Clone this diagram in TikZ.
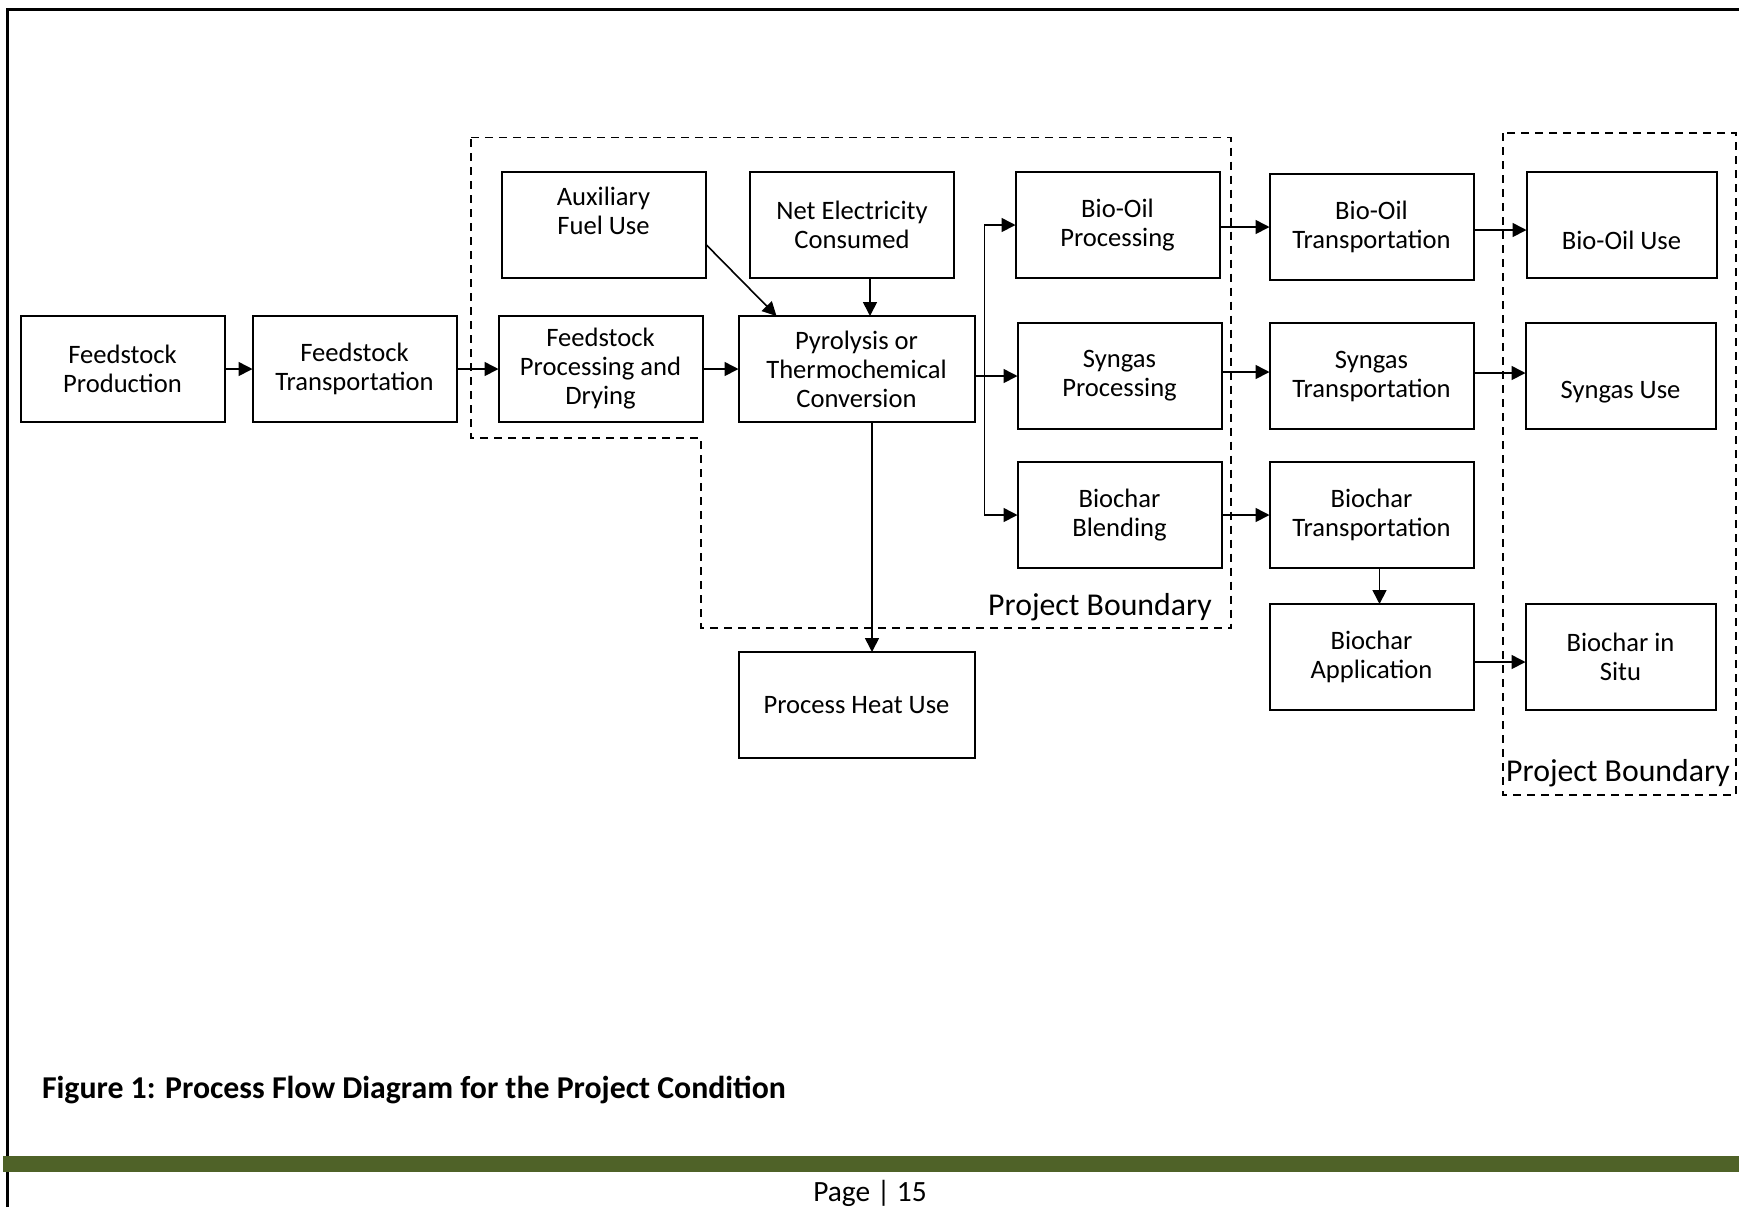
\documentclass[tikz,border=0pt]{standalone}
\usepackage{fontspec}
\setmainfont{Carlito}
\usetikzlibrary{positioning,arrows.meta}
\definecolor{barolive}{HTML}{4F6228}

\begin{document}
\begin{tikzpicture}[x=0.5pt,y=-0.5pt,>={Triangle[length=7pt,width=7pt]},font=\fontsize{13.3}{14.5}\selectfont]

    % Define node styles
    \tikzstyle{process_block} = [draw, line width=1pt, minimum width=102pt, minimum height=53pt, align=center, inner sep=0pt, outer sep=0pt]
    \tikzstyle{wide_block} = [process_block, minimum width=118pt]
    \tikzstyle{use_block} = [process_block, minimum width=95pt]
    \tikzstyle{boundary} = [dash pattern=on 4pt off 3pt, line width=0.8pt]
    \tikzstyle{flow} = [->, line width=0.8pt]

    \useasboundingbox (0,0) rectangle (1739,1207);

    % Page frame
    \draw [line width=1.5pt] (7,1207) -- (7,9) -- (1739,9);
    \fill [barolive] (3,1156) rectangle (1739,1172);

    % Draw nodes
    \node [process_block] (feed_prod) at (122.5,369) {Feedstock\\Production};
    \node [process_block, right=14pt of feed_prod] (feed_trans) {Feedstock\\Transportation};
    \node [process_block, right=21pt of feed_trans] (feed_proc) {Feedstock\\Processing and\\Drying};
    \node [wide_block, right=18pt of feed_proc] (pyrolysis) {Pyrolysis or\\Thermochemical\\Conversion};
    \node [process_block, above=19pt of feed_proc, xshift=1.5pt] (aux_fuel) {Auxiliary\\Fuel Use\\\mbox{}};
    \node [process_block, above=19pt of pyrolysis, xshift=-2.25pt] (net_elec) {Net Electricity\\Consumed};
    \node [wide_block, below=115pt of pyrolysis] (heat_use) {Process Heat Use};

    \node [process_block, right=21.5pt of pyrolysis, yshift=-3.5pt] (syngas_proc) {Syngas\\Processing};
    \node [process_block, above=22.5pt of syngas_proc, xshift=-1pt] (oil_proc) {Bio-Oil\\Processing};
    \node [process_block, below=16.5pt of syngas_proc] (char_blend) {Biochar\\Blending};

    \node [process_block, right=25pt of oil_proc, yshift=-1pt] (oil_trans) {Bio-Oil\\Transportation};
    \node [process_block, right=24pt of syngas_proc] (syngas_trans) {Syngas\\Transportation};
    \node [process_block, right=24pt of char_blend] (char_trans) {Biochar\\Transportation};
    \node [process_block, below=18pt of char_trans] (char_app) {Biochar\\Application};

    \node [use_block, right=26.5pt of oil_trans, yshift=1pt] (oil_use) {\strut\\Bio-Oil Use};
    \node [use_block, right=26pt of syngas_trans] (syngas_use) {\strut\\Syngas Use};
    \node [use_block, right=26pt of char_app] (char_situ) {Biochar in\\Situ};

    % Project boundaries
    \draw [boundary] (471,137.5) -- (1231,137.5) -- (1231,628) -- (701,628) -- (701,438) -- (471,438) -- cycle;
    \draw [boundary] (1503,133) rectangle (1736,795);
    \node [font=\fontsize{15.9}{18}\selectfont] (boundary_label_1) at (1100,607) {Project Boundary};
    \node [font=\fontsize{15.9}{18}\selectfont] (boundary_label_2) at (1618,773) {Project Boundary};

    % Draw arrows
    \draw [flow] (feed_prod) -- (feed_trans);
    \draw [flow] (feed_trans) -- (feed_proc);
    \draw [flow] (feed_proc) -- (pyrolysis);
    \draw [flow] ([yshift=-9.5pt]aux_fuel.east) -- ([xshift=-40pt]pyrolysis.north);
    \draw [flow] ([xshift=9pt]net_elec.south) -- ([xshift=9pt]net_elec.south |- pyrolysis.north);
    \draw [flow] ([xshift=7.75pt]pyrolysis.south) -- ([xshift=7.75pt]pyrolysis.south |- heat_use.north);

    \coordinate (split) at ([xshift=5pt]pyrolysis.east);
    \draw [flow] (pyrolysis.east |- syngas_proc.west) -- (syngas_proc.west);
    \draw [<->, line width=0.8pt] (oil_proc.west) -| (split |- char_blend.west) -- (char_blend.west);

    \draw [flow] (oil_proc.east |- oil_trans.west) -- (oil_trans.west);
    \draw [flow] ([yshift=2pt]syngas_proc.east) -- ([yshift=2pt]syngas_proc.east -| syngas_trans.west);
    \draw [flow] (char_blend) -- (char_trans);
    \draw [flow] ([xshift=4pt]char_trans.south) -- ([xshift=4pt]char_trans.south |- char_app.north);

    \draw [flow] ([yshift=-1.5pt]oil_trans.east) -- ([yshift=-1.5pt]oil_trans.east -| oil_use.west);
    \draw [flow] ([yshift=1.5pt]syngas_trans.east) -- ([yshift=1.5pt]syngas_trans.east -| syngas_use.west);
    \draw [flow] ([yshift=-2.5pt]char_app.east) -- ([yshift=-2.5pt]char_app.east -| char_situ.west);

    % Caption and footer
    \node [anchor=west, font=\fontsize{15.9}{18}\selectfont\bfseries] (caption) at (35,1090) {Figure 1: Process Flow Diagram for the Project Condition};
    \node [font=\fontsize{14.7}{17}\selectfont] (page_no) at (870,1193) {Page | 15};
\end{tikzpicture}
\end{document}
